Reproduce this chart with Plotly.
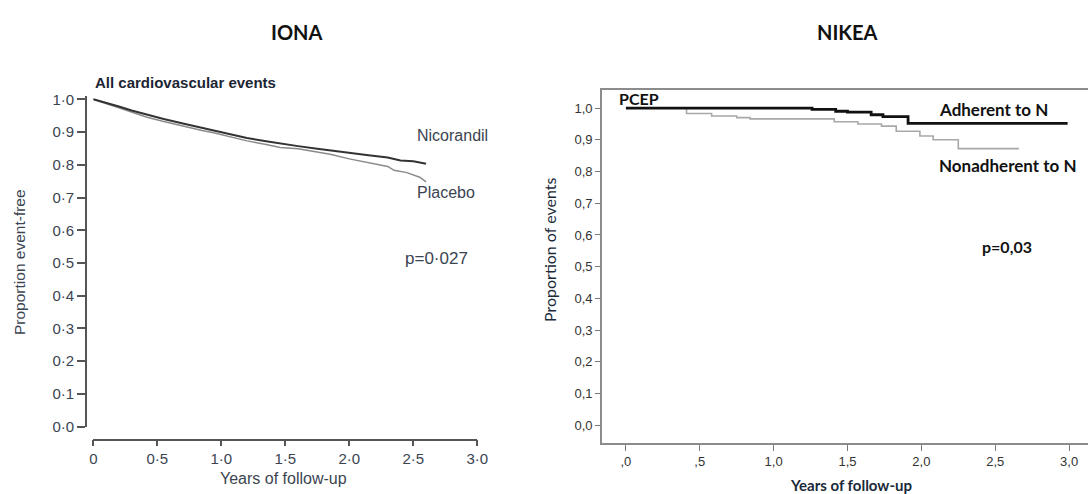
import plotly.graph_objects as go

W, H = 1088, 494

# ---------------- DATA ----------------
# IONA (Kaplan-Meier, proportion event-free)
iona_nic_t = [0, 0.1, 0.2, 0.3, 0.42, 0.55, 0.7, 0.85, 0.94, 1.05, 1.2, 1.35, 1.46, 1.6, 1.75, 1.9, 2.0, 2.15, 2.3, 2.4, 2.5, 2.57, 2.6]
iona_nic_v = [1.0, 0.99, 0.978, 0.966, 0.953, 0.94, 0.926, 0.913, 0.906, 0.896, 0.882, 0.872, 0.865, 0.857, 0.849, 0.841, 0.836, 0.829, 0.822, 0.813, 0.811, 0.806, 0.803]
iona_pla_t = [0, 0.1, 0.2, 0.3, 0.42, 0.55, 0.7, 0.85, 0.94, 1.05, 1.2, 1.35, 1.46, 1.6, 1.7, 1.85, 2.0, 2.15, 2.3, 2.35, 2.45, 2.55, 2.6]
iona_pla_v = [1.0, 0.987, 0.975, 0.962, 0.945, 0.932, 0.918, 0.905, 0.898, 0.888, 0.873, 0.862, 0.853, 0.849, 0.843, 0.832, 0.818, 0.806, 0.795, 0.783, 0.776, 0.762, 0.748]
iona_xticks = [0, 0.5, 1.0, 1.5, 2.0, 2.5, 3.0]
iona_xlabels = ["0", "0·5", "1·0", "1·5", "2·0", "2·5", "3·0"]
iona_yticks = [0.0, 0.1, 0.2, 0.3, 0.4, 0.5, 0.6, 0.7, 0.8, 0.9, 1.0]
iona_ylabels = ["0·0", "0·1", "0·2", "0·3", "0·4", "0·5", "0·6", "0·7", "0·8", "0·9", "1·0"]

# NIKEA (Kaplan-Meier step curves)
nikea_adh_t = [0, 1.26, 1.42, 1.50, 1.66, 1.74, 1.91, 2.99]
nikea_adh_v = [1.0, 0.996, 0.99, 0.987, 0.979, 0.973, 0.952, 0.952]
nikea_non_t = [0, 0.41, 0.58, 0.75, 0.84, 1.41, 1.57, 1.73, 1.83, 1.99, 2.08, 2.25, 2.66]
nikea_non_v = [1.0, 0.983, 0.975, 0.970, 0.966, 0.957, 0.950, 0.943, 0.927, 0.912, 0.90, 0.872, 0.872]
nikea_xticks = [0, 0.5, 1.0, 1.5, 2.0, 2.5, 3.0]
nikea_xlabels = [",0", ",5", "1,0", "1,5", "2,0", "2,5", "3,0"]
nikea_yticks = [0.0, 0.1, 0.2, 0.3, 0.4, 0.5, 0.6, 0.7, 0.8, 0.9, 1.0]
nikea_ylabels = ["0,0", "0,1", "0,2", "0,3", "0,4", "0,5", "0,6", "0,7", "0,8", "0,9", "1,0"]

# ---------------- FIGURE ----------------
def px_x(p):
    return p / W

def px_y(p):
    return 1 - p / H

IONA_TXT = "#3b4452"
ARIAL = "Liberation Sans"
CAL = "Lato"

fig = go.Figure()

fig.add_trace(go.Scatter(x=iona_pla_t, y=iona_pla_v, mode="lines", line=dict(color="#8a8a8a", width=1.5),
                         xaxis="x", yaxis="y", showlegend=False, hoverinfo="skip"))
fig.add_trace(go.Scatter(x=iona_nic_t, y=iona_nic_v, mode="lines", line=dict(color="#333333", width=2),
                         xaxis="x", yaxis="y", showlegend=False, hoverinfo="skip"))

fig.add_trace(go.Scatter(x=nikea_non_t, y=nikea_non_v, mode="lines", line=dict(color="#a8a8a8", width=1.6, shape="hv"),
                         xaxis="x2", yaxis="y2", showlegend=False, hoverinfo="skip"))
fig.add_trace(go.Scatter(x=nikea_adh_t, y=nikea_adh_v, mode="lines", line=dict(color="#111111", width=2.8, shape="hv"),
                         xaxis="x2", yaxis="y2", showlegend=False, hoverinfo="skip"))

iona_y0, iona_y1 = 426.7, 99.3
pxper = (iona_y0 - iona_y1)
iona_top_px = iona_y1 - 0.01 * pxper

fig.update_layout(
    template="none",
    xaxis=dict(domain=[px_x(93.3), px_x(477.3)], range=[0, 3.0], anchor="free", position=px_y(439.5),
               automargin=False, showline=True, linecolor="#555555", linewidth=1.6, ticks="outside", ticklen=6,
               tickwidth=1.6, tickcolor="#555555", tickvals=iona_xticks, ticktext=iona_xlabels, showgrid=False,
               zeroline=False, tickfont=dict(family=ARIAL, size=15, color=IONA_TXT)),
    yaxis=dict(domain=[px_y(iona_y0), px_y(iona_top_px)], range=[0, 1.01], anchor="free", position=px_x(86),
               automargin=False, showline=True, linecolor="#555555", linewidth=1.6, ticks="outside", ticklen=8,
               tickwidth=1.6, tickcolor="#555555", tickvals=iona_yticks, ticktext=iona_ylabels, showgrid=False,
               zeroline=False, tickfont=dict(family=ARIAL, size=15, color=IONA_TXT)),
    xaxis2=dict(domain=[px_x(602), 1.0], range=[-0.162, 3.128], anchor="y2", automargin=False,
                showline=True, mirror=True, linecolor="#8c8c8c", linewidth=1.6, ticks="outside", ticklen=6,
                tickwidth=1.4, tickcolor="#777777", tickvals=nikea_xticks, ticktext=nikea_xlabels,
                showgrid=False, zeroline=False, tickfont=dict(family=ARIAL, size=13, color="#333333")),
    yaxis2=dict(domain=[px_y(443), px_y(90)], range=[-0.056, 1.057], anchor="x2", automargin=False,
                showline=True, linecolor="#8c8c8c", linewidth=1.6, ticks="outside", ticklen=5,
                tickwidth=1.4, tickcolor="#777777", tickvals=nikea_yticks, ticktext=nikea_ylabels,
                showgrid=False, zeroline=False, tickfont=dict(family=ARIAL, size=13, color="#333333")),
    width=W, height=H,
    margin=dict(l=0, r=0, t=0, b=0, pad=0),
    paper_bgcolor="white", plot_bgcolor="white",
    showlegend=False,
)

ann = []
# panel titles
ann.append(dict(text="<b>IONA</b>", x=px_x(297), y=px_y(32), xref="paper", yref="paper", showarrow=False,
                font=dict(family=CAL, size=20, color="#111111"), xanchor="center", yanchor="middle"))
ann.append(dict(text="<b>NIKEA</b>", x=px_x(847), y=px_y(32), xref="paper", yref="paper", showarrow=False,
                font=dict(family=CAL, size=20, color="#111111"), xanchor="center", yanchor="middle"))
# axis titles
ann.append(dict(text="Years of follow-up", x=px_x(283), y=px_y(478), xref="paper", yref="paper", showarrow=False,
                font=dict(family=ARIAL, size=16, color=IONA_TXT), xanchor="center", yanchor="middle"))
ann.append(dict(text="Proportion event-free", x=px_x(19), y=px_y(262), xref="paper", yref="paper", showarrow=False,
                textangle=-90, font=dict(family=ARIAL, size=15.5, color=IONA_TXT), xanchor="center", yanchor="middle"))
ann.append(dict(text="<b>Years of follow-up</b>", x=px_x(851), y=px_y(485), xref="paper", yref="paper", showarrow=False,
                font=dict(family=CAL, size=15, color="#1a2a3a"), xanchor="center", yanchor="middle"))
ann.append(dict(text="Proportion of events", x=px_x(549), y=px_y(250), xref="paper", yref="paper", showarrow=False,
                textangle=-90, font=dict(family=CAL, size=16, color="#1a2a3a"), xanchor="center", yanchor="middle"))
# IONA labels
ann.append(dict(text="<b>All cardiovascular events</b>", x=px_x(93), y=px_y(83), xref="paper", yref="paper",
                showarrow=False, font=dict(family=ARIAL, size=15, color="#1c2533"), xanchor="left", yanchor="middle"))
ann.append(dict(text="Nicorandil", x=2.513, y=0.888, xref="x", yref="y", showarrow=False,
                font=dict(family=ARIAL, size=16, color=IONA_TXT), xanchor="left", yanchor="middle"))
ann.append(dict(text="Placebo", x=2.513, y=0.714, xref="x", yref="y", showarrow=False,
                font=dict(family=ARIAL, size=16, color=IONA_TXT), xanchor="left", yanchor="middle"))
ann.append(dict(text="p=0·027", x=2.417, y=0.515, xref="x", yref="y", showarrow=False,
                font=dict(family=ARIAL, size=17, color=IONA_TXT), xanchor="left", yanchor="middle"))
# NIKEA labels
ann.append(dict(text="<b>PCEP</b>", x=-0.062, y=1.03, xref="x2", yref="y2", showarrow=False,
                font=dict(family=CAL, size=16, color="#111111"), xanchor="left", yanchor="middle"))
ann.append(dict(text="<b>Adherent to N</b>", x=2.49, y=0.995, xref="x2", yref="y2", showarrow=False,
                font=dict(family=CAL, size=17, color="#111111"), xanchor="center", yanchor="middle"))
ann.append(dict(text="<b>Nonadherent to N</b>", x=2.58, y=0.82, xref="x2", yref="y2", showarrow=False,
                font=dict(family=CAL, size=17, color="#111111"), xanchor="center", yanchor="middle"))
ann.append(dict(text="<b>p=0,03</b>", x=2.58, y=0.563, xref="x2", yref="y2", showarrow=False,
                font=dict(family=CAL, size=16, color="#111111"), xanchor="center", yanchor="middle"))

fig.update_layout(annotations=ann)

fig.write_html("out.html", config={"displayModeBar": False},
               post_script="document.body.style.margin='0';document.body.style.overflow='hidden';")
